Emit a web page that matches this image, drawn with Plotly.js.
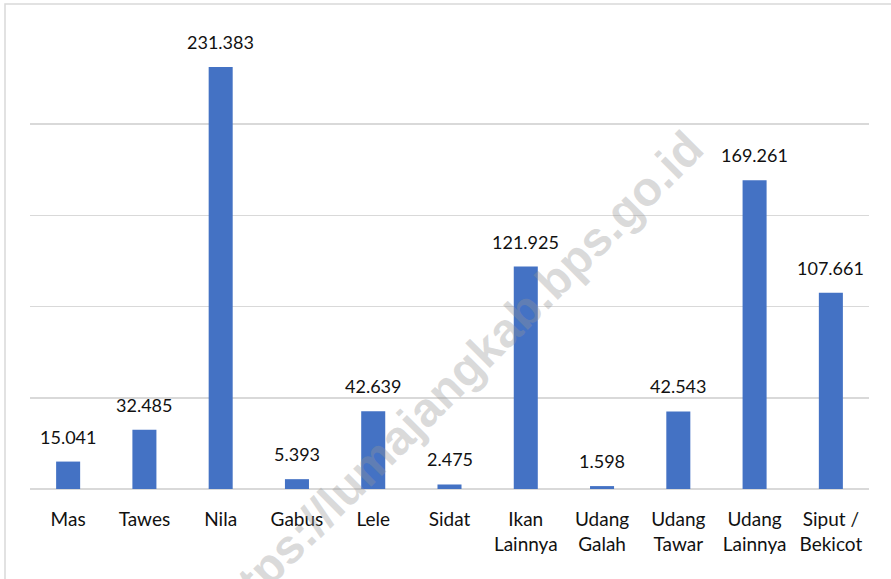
<!DOCTYPE html>
<html>
<head>
<meta charset="utf-8">
<script src="https://cdn.plot.ly/plotly-3.0.1.min.js"></script>
<style>
  html, body { margin: 0; padding: 0; background: #ffffff; }
  #chart { width: 891px; height: 579px; }
</style>
</head>
<body>
<div id="chart"></div>
<script>
// ---- data ----
const categories = ["Mas", "Tawes", "Nila", "Gabus", "Lele", "Sidat",
  "Ikan<br>Lainnya", "Udang<br>Galah", "Udang<br>Tawar", "Udang<br>Lainnya", "Siput /<br>Bekicot"];
const values = [15041, 32485, 231383, 5393, 42639, 2475, 121925, 1598, 42543, 169261, 107661];
const yTicks = [0, 50000, 100000, 150000, 200000, 250000];
const watermarkText = "https://lumajangkab.bps.go.id";

// Indonesian-style thousands separator
function fmt(v) {
  return String(v).replace(/\B(?=(\d{3})+(?!\d))/g, ".");
}

const FONT = "Lato, 'Open Sans', 'Noto Sans', sans-serif";

const trace = {
  type: "bar",
  x: categories,
  y: values,
  marker: { color: "#4472C4" },
  hoverinfo: "skip"
};

const valueLabels = categories.map((c, i) => ({
  x: c,
  y: values[i],
  xref: "x",
  yref: "y",
  text: fmt(values[i]),
  showarrow: false,
  xanchor: "center",
  yanchor: "bottom",
  yshift: 12,
  font: { family: FONT, size: 18, color: "#111111" }
}));

const watermark = {
  xref: "paper",
  yref: "paper",
  x: 0.505,
  y: 0.239,
  xanchor: "center",
  yanchor: "middle",
  text: watermarkText,
  textangle: -45,
  showarrow: false,
  font: { family: "'Liberation Sans', Arial, sans-serif", size: 48, color: "rgba(150,150,150,0.35)", weight: "bold" }
};

const layout = {
  width: 891,
  height: 579,
  margin: { l: 30, r: 22, t: 33, b: 90 },
  paper_bgcolor: "#ffffff",
  plot_bgcolor: "#ffffff",
  showlegend: false,
  bargap: 0.685,
  font: { family: FONT, size: 18, color: "#111111" },
  xaxis: {
    type: "category",
    showline: false,
    ticks: "",
    showgrid: false,
    tickfont: { family: FONT, size: 19, color: "#111111" },
    ticklabelstandoff: 17
  },
  yaxis: {
    range: [0, 250000],
    tickvals: yTicks,
    showticklabels: false,
    showgrid: true,
    gridcolor: "#d9d9d9",
    gridwidth: 1.5,
    zeroline: true,
    zerolinecolor: "#d9d9d9",
    zerolinewidth: 1.5,
    showline: false,
    ticks: ""
  },
  annotations: [watermark].concat(valueLabels),
  shapes: [{
    type: "rect",
    xref: "paper",
    yref: "paper",
    x0: -0.0298, x1: 1.04,
    y0: -0.22, y1: 1.0636,
    line: { color: "#d9d9d9", width: 1.5 },
    fillcolor: "rgba(0,0,0,0)",
    layer: "below"
  }]
};

Plotly.newPlot("chart", [trace], layout, { displayModeBar: false, staticPlot: true });
</script>
</body>
</html>
